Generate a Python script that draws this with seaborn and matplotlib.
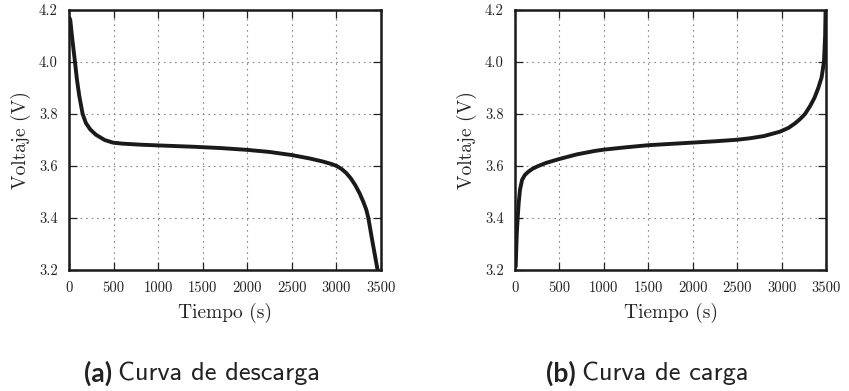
import matplotlib
matplotlib.use("Agg")
import matplotlib.pyplot as plt
import seaborn as sns
import pandas as pd

# Discharge curve (a)
t_dis = [5, 15, 30, 50, 67, 90, 115, 153, 190, 240, 303, 400, 491, 600, 800, 1090, 1400, 1700, 2000, 2250, 2500, 2700, 2850, 2950, 3003, 3060, 3110, 3160, 3210, 3260, 3302, 3335, 3358, 3400, 3430, 3462]
v_dis = [4.17, 4.16, 4.11, 4.05, 4.00, 3.93, 3.87, 3.80, 3.765, 3.74, 3.72, 3.70, 3.69, 3.686, 3.682, 3.678, 3.674, 3.669, 3.662, 3.654, 3.642, 3.629, 3.617, 3.607, 3.600, 3.588, 3.573, 3.553, 3.527, 3.495, 3.462, 3.432, 3.40, 3.317, 3.26, 3.2]

# Charge curve (b)
t_chg = [8, 14, 20, 30, 42, 56, 79, 110, 150, 200, 262, 350, 500, 700, 900, 1000, 1250, 1500, 2000, 2250, 2500, 2650, 2800, 2982, 3080, 3151, 3210, 3264, 3320, 3370, 3413, 3450, 3477, 3490, 3495]
v_chg = [3.213, 3.28, 3.34, 3.40, 3.46, 3.508, 3.546, 3.565, 3.578, 3.59, 3.60, 3.612, 3.627, 3.645, 3.658, 3.663, 3.672, 3.680, 3.690, 3.695, 3.701, 3.707, 3.715, 3.732, 3.747, 3.764, 3.781, 3.80, 3.83, 3.862, 3.90, 3.94, 4.00, 4.10, 4.20]

xticks = [0, 500, 1000, 1500, 2000, 2500, 3000, 3500]
yticks = [3.2, 3.4, 3.6, 3.8, 4.0, 4.2]
xlabel = "Tiempo (s)"
ylabel = "Voltaje (V)"
captions = [("(a)", "Curva de descarga"), ("(b)", "Curva de carga")]

sns.set_style("ticks")
plt.rcParams['font.family'] = ['cmr10', 'DejaVu Serif']
plt.rcParams['axes.formatter.use_mathtext'] = True

fig = plt.figure(figsize=(8.49, 3.91), dpi=100)
ax1 = fig.add_axes([69/849, 1-270/391, 312/849, 260/391])
ax2 = fig.add_axes([515/849, 1-270/391, 311/849, 260/391])

for ax, t, v in [(ax1, t_dis, v_dis), (ax2, t_chg, v_chg)]:
    df = pd.DataFrame({"t": t, "v": v})
    sns.lineplot(data=df, x="t", y="v", ax=ax, color="#1a1a1a", linewidth=2.8,
                 sort=False, solid_joinstyle="round", solid_capstyle="round")
    ax.set_xlim(0, 3500)
    ax.set_ylim(3.2, 4.2)
    ax.set_xticks(xticks)
    ax.set_yticks(yticks)
    ax.set_xticklabels([str(x) for x in xticks], fontsize=10.5)
    ax.set_yticklabels([f"{y:.1f}" for y in yticks], fontsize=10.5)
    ax.set_xlabel(xlabel, fontsize=14, labelpad=6)
    ax.set_ylabel(ylabel, fontsize=14, labelpad=6)
    ax.grid(True, linestyle=(0, (1.5, 3.5)), color="#888888", linewidth=0.8)
    ax.tick_params(direction="in", top=True, right=True, length=6, width=0.9, pad=8, colors="#222222")
    for s in ax.spines.values():
        s.set_linewidth(1.8)
        s.set_color("#1a1a1a")

# captions: bold label + regular text, centred at given pixel positions
cap_size = 19
def caption(xc, lab, txt):
    y = 1-373/391
    t1 = fig.text(0, y, lab + " ", fontsize=cap_size, fontweight="bold", family="Lato", va="center", color="#222222")
    t2 = fig.text(0, y, txt, fontsize=cap_size, family="cmss10", va="center", color="#222222")
    fig.canvas.draw()
    r = fig.canvas.get_renderer()
    w1 = t1.get_window_extent(r).width
    w2 = t2.get_window_extent(r).width
    W = fig.bbox.width
    start = xc*W - (w1+w2)/2
    t1.set_x(start/W)
    t2.set_x((start+w1)/W)

caption(202/849, *captions[0])
caption(647/849, *captions[1])

fig.savefig("out.png", dpi=100)
